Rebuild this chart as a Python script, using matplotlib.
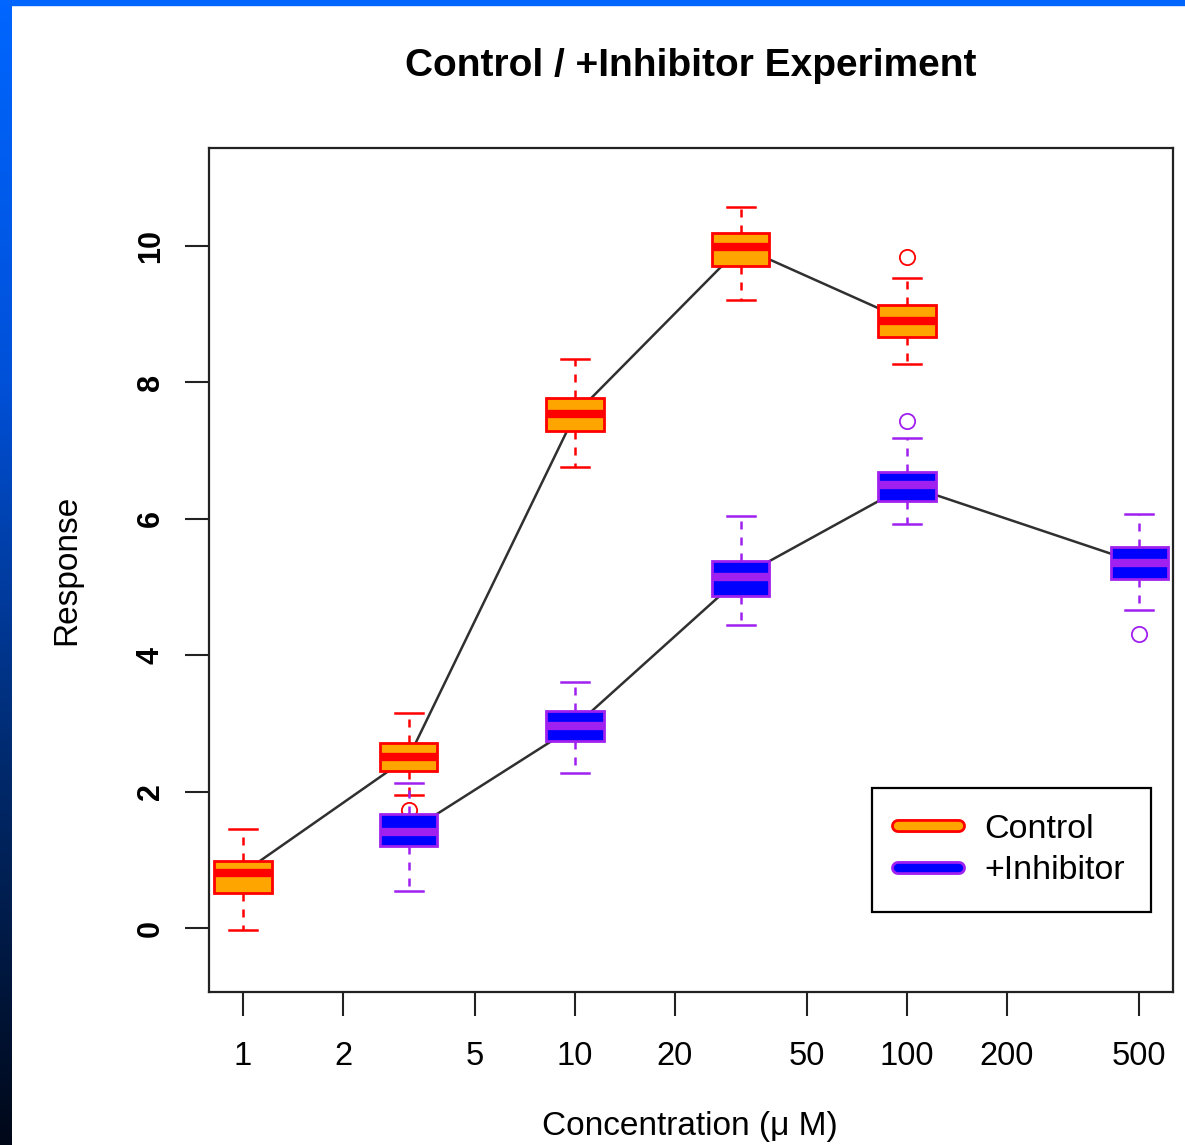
import numpy as np
import matplotlib
matplotlib.use("Agg")
from matplotlib import pyplot as plt
from matplotlib.lines import Line2D
from matplotlib.legend_handler import HandlerTuple
from matplotlib.colors import LinearSegmentedColormap

plt.rcParams['font.family'] = ['Liberation Sans', 'DejaVu Sans']

# Box statistics
conc_control = [1, 3.16, 10, 31.6, 100]
control_whislo = [-0.03, 1.95, 6.76, 9.21, 8.27]
control_q1 = [0.51, 2.30, 7.29, 9.71, 8.67]
control_med = [0.81, 2.51, 7.53, 9.99, 8.90]
control_q3 = [0.98, 2.71, 7.77, 10.19, 9.14]
control_whishi = [1.45, 3.15, 8.34, 10.57, 9.53]
control_fliers = [[], [1.73], [], [], [9.84]]

conc_inhib = [3.16, 10, 31.6, 100, 500]
inhib_whislo = [0.54, 2.27, 4.44, 5.92, 4.66]
inhib_q1 = [1.20, 2.74, 4.87, 6.26, 5.12]
inhib_med = [1.41, 2.96, 5.15, 6.49, 5.35]
inhib_q3 = [1.67, 3.18, 5.38, 6.69, 5.59]
inhib_whishi = [2.13, 3.61, 6.04, 7.18, 6.07]
inhib_fliers = [[], [], [], [7.43], [4.31]]

xticks = [1, 2, 5, 10, 20, 50, 100, 200, 500]
yticks = [0, 2, 4, 6, 8, 10]


def make_stats(lo, q1, med, q3, hi, fl):
    return [dict(whislo=a, q1=b, med=c, q3=d, whishi=e, fliers=f)
            for a, b, c, d, e, f in zip(lo, q1, med, q3, hi, fl)]


fig = plt.figure(figsize=(11.85, 11.45), dpi=100)
fig.patch.set_facecolor('white')

# slide background border (top strip + left gradient strip)
bg = fig.add_axes([0, 0, 12 / 1185, 1])
bg.axis('off')
cmap = LinearSegmentedColormap.from_list(
    'slide', ['#000818', '#002a6e', '#0050d8', '#0066ff'])
bg.imshow(np.linspace(0, 1, 256)[:, None], aspect='auto', cmap=cmap,
          origin='lower', extent=[0, 1, 0, 1])
fig.patches.append(plt.Rectangle((0, 1 - 5 / 1145), 1, 5 / 1145,
                                 transform=fig.transFigure,
                                 color='#0066ff', zorder=5))

ax = fig.add_axes([209 / 1185, 1 - 992 / 1145, 964 / 1185, 844 / 1145])

w = 0.172
groups = [
    (conc_control, make_stats(control_whislo, control_q1, control_med,
                              control_q3, control_whishi, control_fliers),
     control_med, '#FFA500', '#FF0000'),
    (conc_inhib, make_stats(inhib_whislo, inhib_q1, inhib_med,
                            inhib_q3, inhib_whishi, inhib_fliers),
     inhib_med, '#0000FF', '#A020F0'),
]

for conc, stats, med, fill, edge in groups:
    pos = np.log10(conc)
    ax.plot(pos, med, color='#303030', lw=1.8, zorder=1)
    ax.bxp(stats, positions=pos, widths=w, capwidths=w / 2,
           patch_artist=True, manage_ticks=False, zorder=3,
           boxprops=dict(facecolor=fill, edgecolor=edge, lw=2),
           medianprops=dict(color=edge, lw=6, solid_capstyle='butt'),
           whiskerprops=dict(color=edge, lw=1.8, linestyle=(0, (3.2, 3.2))),
           capprops=dict(color=edge, lw=1.8),
           flierprops=dict(marker='o', markersize=11, markerfacecolor='none',
                           markeredgecolor=edge, markeredgewidth=1.3))

ax.set_xlim(-0.1024, 2.801)
ax.set_ylim(-0.938, 11.437)
ax.set_xticks(np.log10(xticks))
ax.set_xticklabels([str(t) for t in xticks], fontsize=23.5)
ax.set_yticks(yticks)
ax.set_yticklabels([str(t) for t in yticks], fontsize=22,
                   fontweight='bold', rotation=90, va='center')
ax.tick_params(axis='both', length=17, width=1.5, color='#222222')
ax.tick_params(axis='x', pad=18)
ax.tick_params(axis='y', pad=14)
for s in ax.spines.values():
    s.set_linewidth(1.6)
    s.set_color('#222222')

ax.set_title('Control / +Inhibitor Experiment', fontsize=28,
             fontweight='bold', pad=52)
fig.text(67 / 1185, 1 - 570 / 1145, 'Response', rotation=90,
         ha='center', va='center', fontsize=24)
fig.text(690 / 1185, 1 - 1127 / 1145, 'Concentration (\u03bc M)',
         ha='center', va='center', fontsize=24)

# legend with rounded outlined bars
h_ctrl = (Line2D([], [], color='#FF0000', lw=10, solid_capstyle='round'),
          Line2D([], [], color='#FFA500', lw=6, solid_capstyle='round'))
h_inh = (Line2D([], [], color='#A020F0', lw=10, solid_capstyle='round'),
         Line2D([], [], color='#0000FF', lw=6, solid_capstyle='round'))
leg = ax.legend([h_ctrl, h_inh], ['Control', '+Inhibitor'],
                handler_map={tuple: HandlerTuple(ndivide=1)},
                loc='lower right', bbox_to_anchor=(0.977, 0.0948),
                borderaxespad=0, fontsize=24.5, handlelength=1.8,
                handletextpad=0.75, labelspacing=0.32, borderpad=0.75,
                fancybox=False, framealpha=1, edgecolor='black')
leg.get_frame().set_linewidth(1.6)

fig.savefig('out.png', dpi=100)
